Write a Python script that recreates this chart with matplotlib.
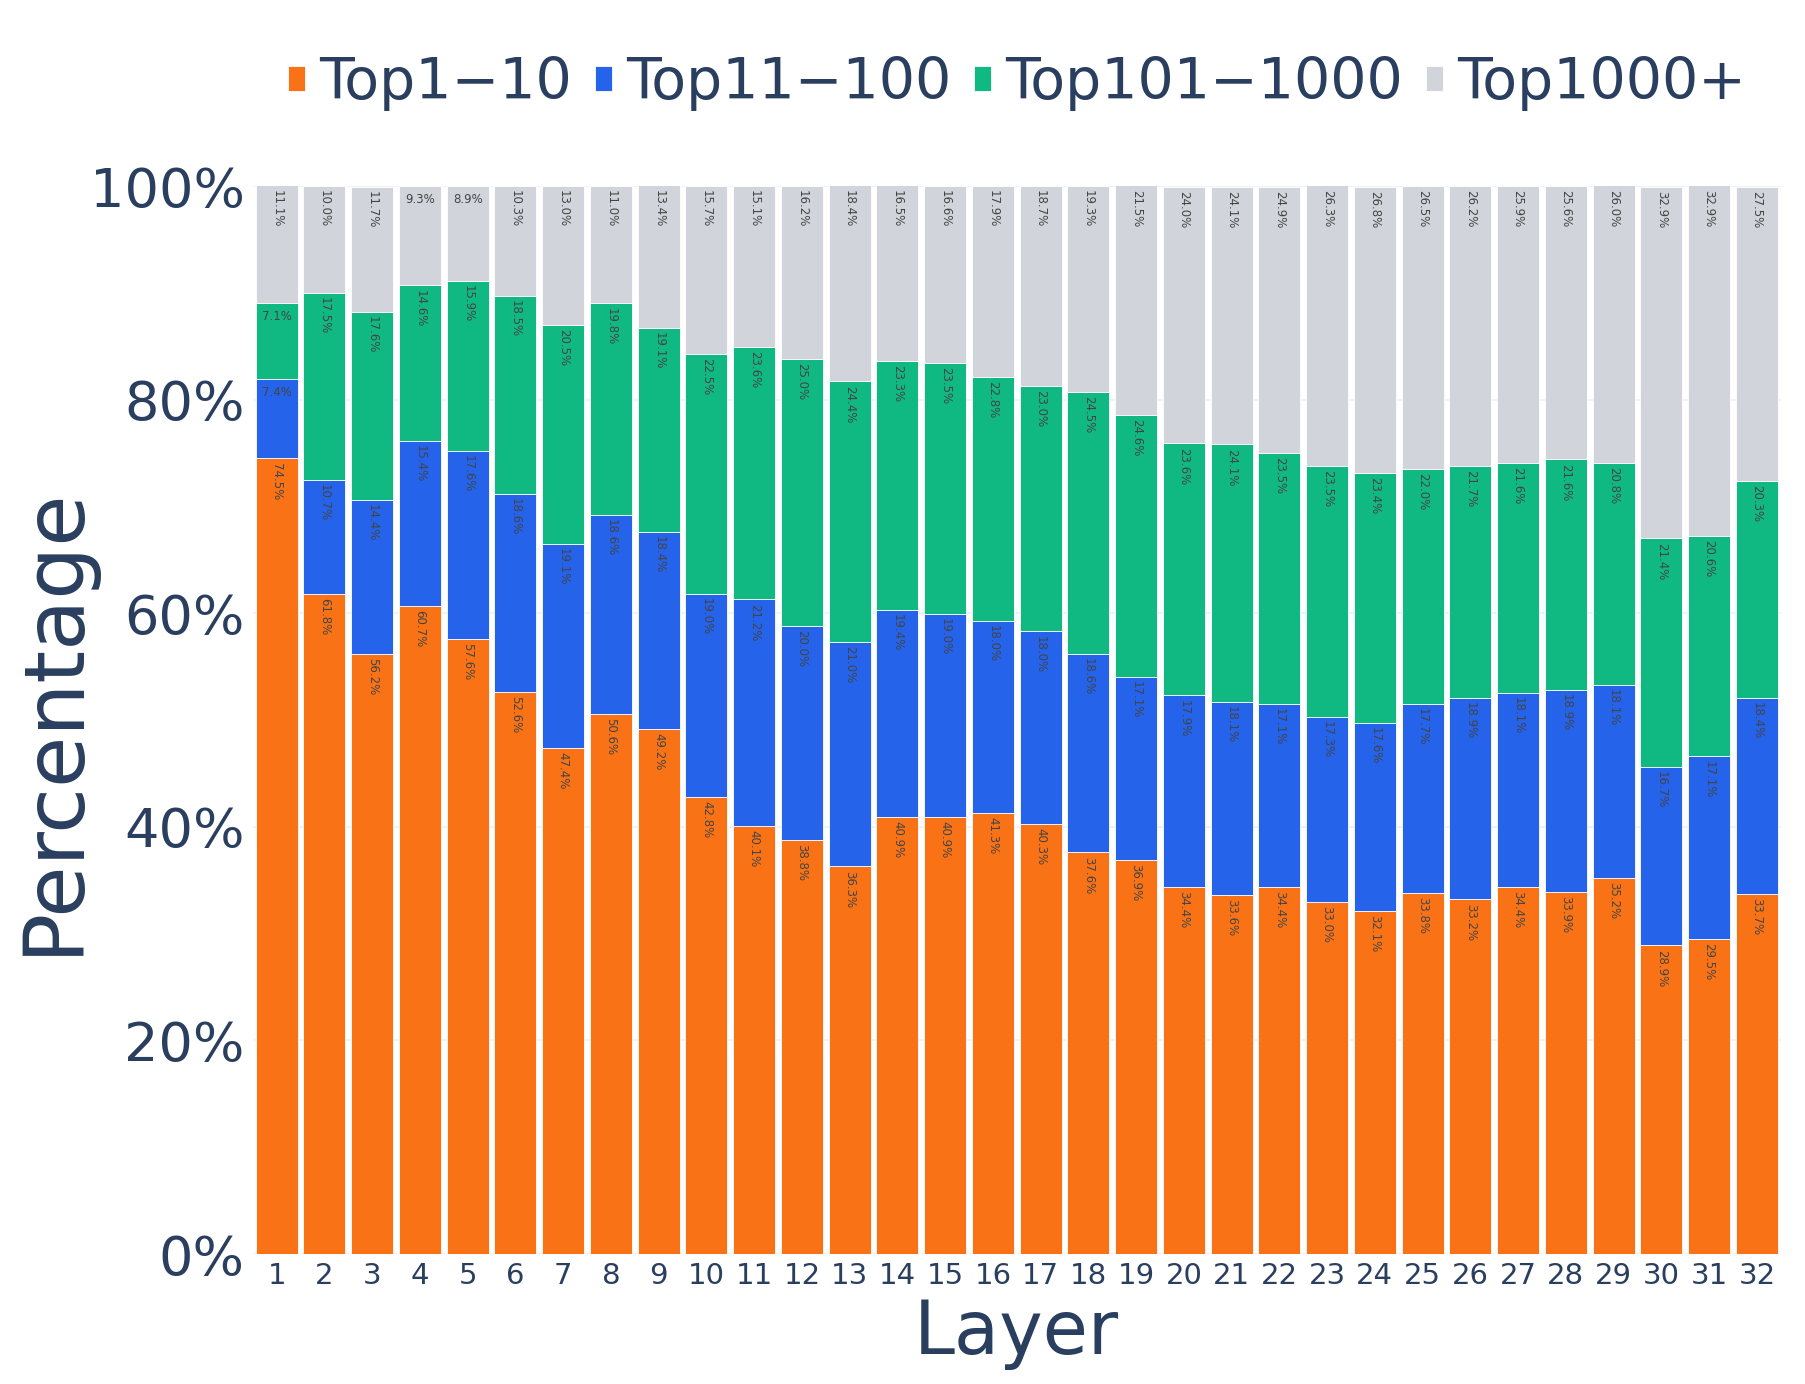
import matplotlib
matplotlib.use("Agg")
import matplotlib.pyplot as plt
import matplotlib.ticker as mticker
import numpy as np

# shares (%) of each rank bucket per layer
layers = list(range(1, 33))
top1_10 = [74.5, 61.8, 56.2, 60.7, 57.6, 52.6, 47.4, 50.6, 49.2, 42.8, 40.1, 38.8, 36.3, 40.9, 40.9, 41.3,
           40.3, 37.6, 36.9, 34.4, 33.6, 34.4, 33.0, 32.1, 33.8, 33.2, 34.4, 33.9, 35.2, 28.9, 29.5, 33.7]
top11_100 = [7.4, 10.7, 14.4, 15.4, 17.6, 18.6, 19.1, 18.6, 18.4, 19.0, 21.2, 20.0, 21.0, 19.4, 19.0, 18.0,
             18.0, 18.6, 17.1, 17.9, 18.1, 17.1, 17.3, 17.6, 17.7, 18.9, 18.1, 18.9, 18.1, 16.7, 17.1, 18.4]
top101_1000 = [7.1, 17.5, 17.6, 14.6, 15.9, 18.5, 20.5, 19.8, 19.1, 22.5, 23.6, 25.0, 24.4, 23.3, 23.5, 22.8,
               23.0, 24.5, 24.6, 23.6, 24.1, 23.5, 23.5, 23.4, 22.0, 21.7, 21.6, 21.6, 20.8, 21.4, 20.6, 20.3]
top1000_plus = [11.1, 10.0, 11.7, 9.3, 8.9, 10.3, 13.0, 11.0, 13.4, 15.7, 15.1, 16.2, 18.4, 16.5, 16.6, 17.9,
                18.7, 19.3, 21.5, 24.0, 24.1, 24.9, 26.3, 26.8, 26.5, 26.2, 25.9, 25.6, 26.0, 32.9, 32.9, 27.5]

series_names = ["Top1\u221210", "Top11\u2212100", "Top101\u22121000", "Top1000+"]
series_colors = ["#F97316", "#2563EB", "#10B981", "#D1D5DB"]
TEXT = "#2a3f5f"

plt.rcParams["font.family"] = "DejaVu Sans"

fig = plt.figure(figsize=(18.06, 13.84), dpi=100)
ax = fig.add_axes([0.140, 0.0939, 0.846, 0.7717])

x = np.array(layers)
bottom = np.zeros(len(layers))
handles = []
for name, vals, color in zip(series_names, [top1_10, top11_100, top101_1000, top1000_plus], series_colors):
    vals = np.array(vals)
    bars = ax.bar(x, vals, width=0.88, bottom=bottom, color=color, edgecolor="white",
                  linewidth=0.6, label=name, zorder=2)
    handles.append(bars)
    tops = bottom + vals
    for xi, top, v in zip(x, tops, vals):
        txt = f"{v:.1f}%"
        if v < 10:
            ax.annotate(txt, xy=(xi, min(top, 100)), xytext=(0, -5), textcoords="offset points",
                        ha="center", va="top", fontsize=8.5, color="#444444", zorder=3)
        else:
            ax.annotate(txt, xy=(xi, min(top, 100)), xytext=(0, -3), textcoords="offset points",
                        ha="center", va="top", rotation=-90, fontsize=8.5, color="#444444", zorder=3)
    bottom = tops

ax.set_xlim(0.5, 32.5)
ax.set_ylim(0, 100)
ax.set_xticks(layers)
ax.set_xticklabels([str(l) for l in layers])
ax.set_yticks([0, 20, 40, 60, 80, 100])
ax.yaxis.set_major_formatter(mticker.FuncFormatter(lambda v, _: f"{int(v)}%"))
ax.tick_params(axis="x", length=0, labelsize=21, labelcolor=TEXT, pad=6)
ax.tick_params(axis="y", length=0, labelsize=39, labelcolor=TEXT, pad=6)
for s in ax.spines.values():
    s.set_visible(False)
ax.grid(True, axis="y", color="#EBF0F8", linewidth=1.2, zorder=0)
ax.set_axisbelow(True)

ax.set_xlabel("Layer", fontsize=53, color=TEXT, labelpad=5)
ax.set_ylabel("Percentage", fontsize=60, color=TEXT, labelpad=-3)

fig.legend(handles=handles, labels=series_names, loc="center", bbox_to_anchor=(0.563, 0.94),
           ncol=4, frameon=False, fontsize=41, labelcolor=TEXT, handlelength=0.3, handleheight=0.3,
           handletextpad=0.25, columnspacing=0.4, borderaxespad=0)

fig.savefig("out.png", dpi=100)
